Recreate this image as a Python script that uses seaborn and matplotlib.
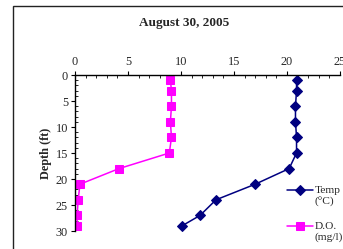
import matplotlib
matplotlib.use("Agg")
import matplotlib.pyplot as plt
from matplotlib.patches import Rectangle
from matplotlib.ticker import MultipleLocator
import seaborn as sns
import pandas as pd

depth = [1, 3, 6, 9, 12, 15, 18, 21, 24, 27, 29]
temp = [20.9, 20.9, 20.8, 20.8, 20.9, 20.9, 20.2, 17.0, 13.3, 11.8, 10.1]
do = [9.0, 9.1, 9.1, 9.0, 9.1, 8.9, 4.15, 0.47, 0.3, 0.2, 0.2]
title = "August 30, 2005"

sns.set_style("white")
plt.rcParams['font.family'] = ['Liberation Serif', 'DejaVu Serif']

fig = plt.figure(figsize=(3.43, 2.49), dpi=100)
ax = fig.add_axes([75/343, 1-231/249, (340-75)/343, (231-75)/249])

df = pd.DataFrame({"depth": depth, "temp": temp, "do": do})
sns.lineplot(data=df, x="temp", y="depth", sort=False, estimator=None, ax=ax,
             color="#000080", marker="D", markersize=5, markeredgecolor="#000080",
             linewidth=1.1, label="Temp\n(°C)")
sns.lineplot(data=df, x="do", y="depth", sort=False, estimator=None, ax=ax,
             color="#FF00FF", marker="s", markersize=5.5, markeredgecolor="#FF00FF",
             linewidth=1.1, label="D.O.\n(mg/l)")

ax.set_xlim(0, 25)
ax.set_ylim(30, 0)
ax.xaxis.tick_top()
ax.xaxis.set_label_position("top")
ax.set_xlabel("")
ax.set_ylabel("Depth (ft)", fontsize=8.8, fontweight="bold", labelpad=3)
ax.xaxis.set_major_locator(MultipleLocator(5))
ax.xaxis.set_minor_locator(MultipleLocator(1))
ax.yaxis.set_major_locator(MultipleLocator(5))
ax.yaxis.set_minor_locator(MultipleLocator(1))
ax.tick_params(axis="both", which="major", direction="out", length=3, width=0.8,
               labelsize=8.8, pad=2, color="black")
ax.tick_params(axis="x", which="both", top=True, bottom=False)
ax.tick_params(axis="y", which="both", left=True, right=False)
ax.tick_params(axis="both", which="minor", direction="in", length=2, width=0.6, color="black")
for s in ["right", "bottom"]:
    ax.spines[s].set_visible(False)
for s in ["top", "left"]:
    ax.spines[s].set_color("black")
    ax.spines[s].set_linewidth(1.0)
ax.patch.set_alpha(0)

leg = ax.legend(loc="upper left", bbox_to_anchor=(287/343, 1-186/249),
                bbox_transform=fig.transFigure, frameon=False, fontsize=8.2,
                handlelength=2.3, handletextpad=0.15, labelspacing=1.35,
                borderaxespad=0, borderpad=0)
for col in leg._legend_handle_box.get_children():
    for row in col.get_children():
        row.align = "top"

fig.text(184/343, 1-23/249, title, ha="center", va="center",
         fontsize=9.5, fontweight="bold")

fig.patches.append(Rectangle((13/343, -0.1), 1.2, 1.1 - 6/249, transform=fig.transFigure,
                             fill=False, edgecolor="#222222", linewidth=1.0))

fig.savefig("out.png", dpi=100)
